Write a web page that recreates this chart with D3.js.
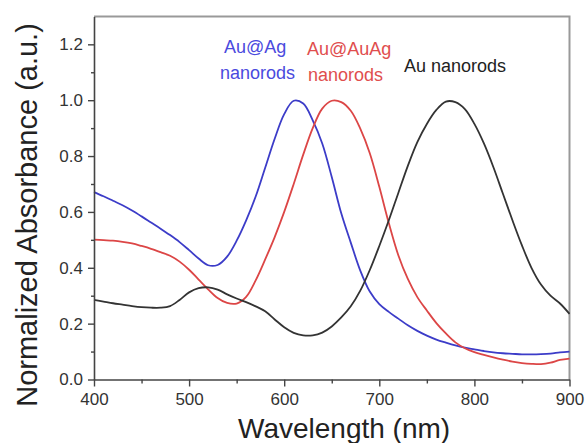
<!DOCTYPE html>
<html>
<head>
<meta charset="utf-8">
<script src="https://cdn.jsdelivr.net/npm/d3@7"></script>
<style>
  html, body { margin: 0; padding: 0; background: #fff; }
  svg { display: block; font-family: "Liberation Sans", Arial, sans-serif; }
</style>
</head>
<body>
<svg id="chart" width="587" height="443"></svg>
<script>
const wavelengths = [400,410,420,430,440,450,460,470,480,490,500,510,520,530,540,550,560,570,580,590,600,610,620,630,640,650,660,670,680,690,700,710,720,730,740,750,760,770,780,790,800,810,820,830,840,850,860,870,880,890,900];

const auAg = [0.671,0.656,0.640,0.624,0.605,0.584,0.562,0.540,0.517,0.492,0.463,0.433,0.409,0.410,0.440,0.497,0.570,0.655,0.758,0.862,0.950,0.998,0.988,0.928,0.845,0.725,0.595,0.490,0.390,0.315,0.270,0.242,0.218,0.194,0.174,0.157,0.143,0.132,0.122,0.114,0.108,0.102,0.097,0.094,0.092,0.090,0.090,0.091,0.093,0.097,0.100];

const auAuAg = [0.501,0.499,0.497,0.493,0.487,0.478,0.468,0.456,0.443,0.422,0.393,0.358,0.323,0.292,0.274,0.272,0.296,0.355,0.430,0.510,0.600,0.700,0.805,0.900,0.970,0.998,0.993,0.962,0.898,0.810,0.690,0.560,0.445,0.360,0.295,0.247,0.202,0.165,0.133,0.112,0.098,0.088,0.079,0.071,0.064,0.059,0.056,0.055,0.060,0.070,0.075];

const auRods = [0.285,0.279,0.273,0.268,0.263,0.259,0.257,0.257,0.263,0.285,0.312,0.327,0.330,0.322,0.305,0.290,0.277,0.262,0.244,0.215,0.187,0.167,0.158,0.158,0.168,0.190,0.222,0.262,0.318,0.392,0.478,0.570,0.668,0.765,0.850,0.915,0.965,0.995,0.993,0.968,0.915,0.845,0.760,0.665,0.570,0.480,0.400,0.340,0.300,0.272,0.235];

const xMajorTicks = [400,500,600,700,800,900];
const xMinorTicks = [450,550,650,750,850];
const yMajorTicks = [0.0,0.2,0.4,0.6,0.8,1.0,1.2];
const yMinorTicks = [0.1,0.3,0.5,0.7,0.9,1.1];

const seriesNames = ["Au@Ag nanorods","Au@AuAg nanorods","Au nanorods"];
const seriesValues = [auAg, auAuAg, auRods];
const lineColors = ["#3c3cc8","#dc4646","#333333"];

const svg = d3.select("#chart");
const x = d3.scaleLinear().domain([400,900]).range([94,569.5]);
const y = d3.scaleLinear().domain([0,1.3]).range([379.5,16.4]);

// frame (top and right)
svg.append("path")
  .attr("d", `M${x(400)},${y(1.3)}H${x(900)}V${y(0)}`)
  .attr("fill","none").attr("stroke","#999").attr("stroke-width",2);

// lines
const line = d3.line().x((d,i)=>x(wavelengths[i])).y(d=>y(d)).curve(d3.curveCatmullRom.alpha(0.5));
seriesValues.forEach((vals, k) => {
  svg.append("path").datum(vals)
    .attr("d", line)
    .attr("fill","none")
    .attr("stroke", lineColors[k])
    .attr("stroke-width", 1.8)
    .attr("stroke-linejoin","round");
});

function styleAxis(g){
  g.selectAll(".domain").attr("stroke","#444").attr("stroke-width",1.6);
  g.selectAll(".tick line").attr("stroke","#444").attr("stroke-width",1.4);
  g.selectAll(".tick text").attr("fill","#333").style("font-size","17px").style("font-family","'Liberation Sans', Arial, sans-serif");
}

// x axis
const gx = svg.append("g").attr("transform",`translate(0,${y(0)})`)
  .call(d3.axisBottom(x).tickValues(xMajorTicks).tickSize(7).tickPadding(6).tickSizeOuter(0).tickFormat(d3.format("d")));
styleAxis(gx);
const gxm = svg.append("g").attr("transform",`translate(0,${y(0)})`)
  .call(d3.axisBottom(x).tickValues(xMinorTicks).tickSize(4).tickFormat(""));
styleAxis(gxm); gxm.select(".domain").remove();

// y axis
const gy = svg.append("g").attr("transform",`translate(${x(400)},0)`)
  .call(d3.axisLeft(y).tickValues(yMajorTicks).tickSize(6).tickPadding(5).tickSizeOuter(0).tickFormat(d3.format(".1f")));
styleAxis(gy);
const gym = svg.append("g").attr("transform",`translate(${x(400)},0)`)
  .call(d3.axisLeft(y).tickValues(yMinorTicks).tickSize(3).tickFormat(""));
styleAxis(gym); gym.select(".domain").remove();

// axis titles
svg.append("text").attr("x",238).attr("y",438)
  .attr("fill","#222").style("font-size","28px")
  .text("Wavelength (nm)");
svg.append("text").attr("transform","translate(37,215) rotate(-90)")
  .attr("text-anchor","middle").attr("fill","#222").style("font-size","29px")
  .text("Normalized Absorbance (a.u.)");

// annotations
const labels = [
  {t:"Au@Ag", x:224, y:53, c:"#4a4ade"},
  {t:"nanorods", x:220, y:79, c:"#4a4ade"},
  {t:"Au@AuAg", x:307, y:55, c:"#e04e4e"},
  {t:"nanorods", x:308, y:81, c:"#e04e4e"},
  {t:"Au nanorods", x:404, y:72, c:"#222"}
];
labels.forEach(l => {
  svg.append("text").attr("x",l.x).attr("y",l.y).attr("fill",l.c)
    .style("font-size","18px").text(l.t);
});
</script>
</body>
</html>
